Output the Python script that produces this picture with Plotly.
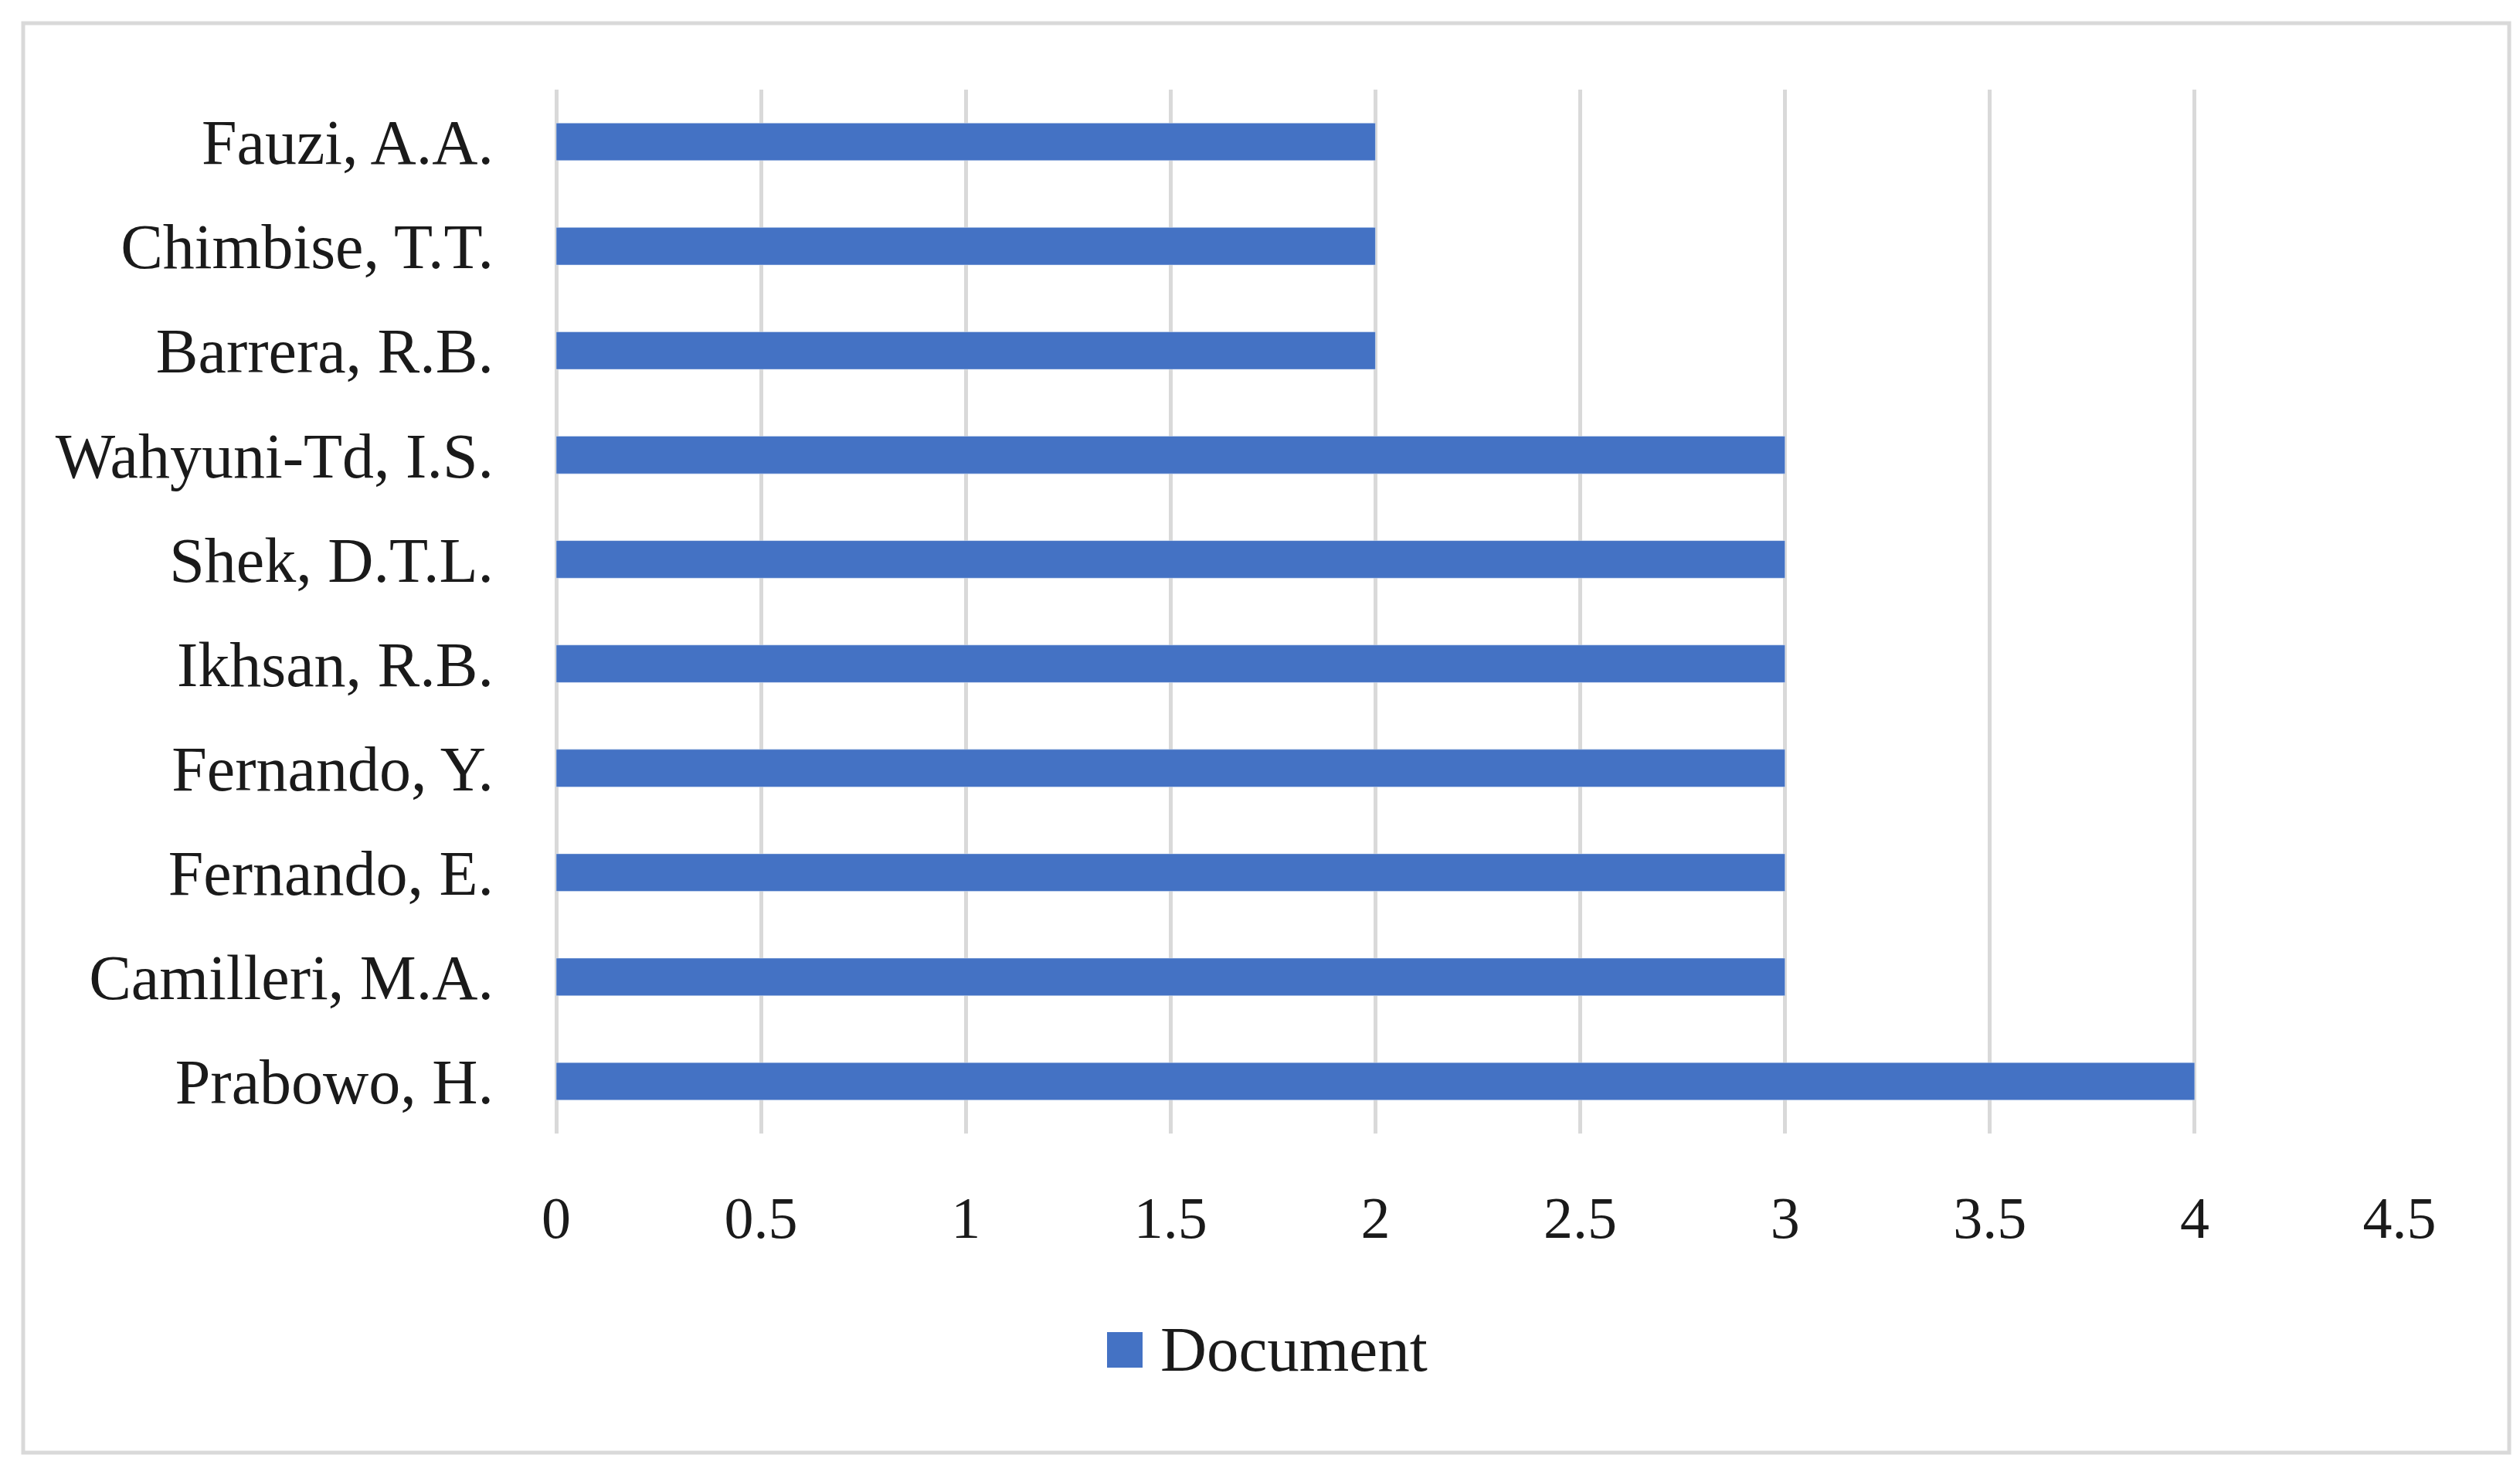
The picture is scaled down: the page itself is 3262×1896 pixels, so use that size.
import plotly.graph_objects as go

# Data (bottom to top)
authors = ['Prabowo, H.', 'Camilleri, M.A.', 'Fernando, E.', 'Fernando, Y.', 'Ikhsan, R.B.',
           'Shek, D.T.L.', 'Wahyuni-Td, I.S.', 'Barrera, R.B.', 'Chimbise, T.T.', 'Fauzi, A.A.']
documents = [4, 3, 3, 3, 3, 3, 3, 2, 2, 2]
series_name = 'Document'
x_ticks = [0, 0.5, 1, 1.5, 2, 2.5, 3, 3.5, 4, 4.5]

W, H = 3262, 1896
L, R, T, B = 712, 3098, 108, 1459  # plot area in pixels
BLUE = '#4472C4'
GRID = '#D9D9D9'
FONT = 'Palatino Linotype, Book Antiqua, Liberation Serif, serif'


def px(x):
    return (x - L) / (R - L)


def py(y):
    return (B - y) / (B - T)


fig = go.Figure()
fig.add_trace(go.Bar(x=documents, y=authors, orientation='h', name=series_name,
                     marker_color=BLUE, showlegend=False))

fig.update_layout(
    width=W, height=H,
    margin=dict(l=L, r=W - R, t=T, b=H - B, pad=0),
    plot_bgcolor='white', paper_bgcolor='white',
    bargap=0.64,
    font=dict(family=FONT, size=76, color='#1a1a1a'),
    xaxis=dict(range=[0, 4.5], tickvals=x_ticks, ticktext=[f'{v:g}' for v in x_ticks],
               showgrid=True, gridcolor=GRID, gridwidth=5,
               zeroline=True, zerolinecolor=GRID, zerolinewidth=5,
               showline=False, ticks='', ticklabelstandoff=58),
    yaxis=dict(showgrid=False, zeroline=False, showline=False, ticks='',
               tickfont=dict(size=82), ticklabelstandoff=80),
)

# legend drawn by hand so the swatch matches the original size
fig.add_shape(type='rect', xref='paper', yref='paper',
              x0=px(1425), x1=px(1471), y0=py(1762), y1=py(1716),
              fillcolor=BLUE, line_width=0)
fig.add_annotation(xref='paper', yref='paper', x=px(1492), y=py(1738),
                   xanchor='left', yanchor='middle', showarrow=False,
                   text=series_name, font=dict(family=FONT, size=83, color='#1a1a1a'))

# outer frame
fig.add_shape(type='rect', xref='paper', yref='paper',
              x0=px(22), x1=px(3240), y0=py(1872), y1=py(22),
              line=dict(color=GRID, width=5), fillcolor='rgba(0,0,0,0)', layer='below')

fig.write_html('out.html')
